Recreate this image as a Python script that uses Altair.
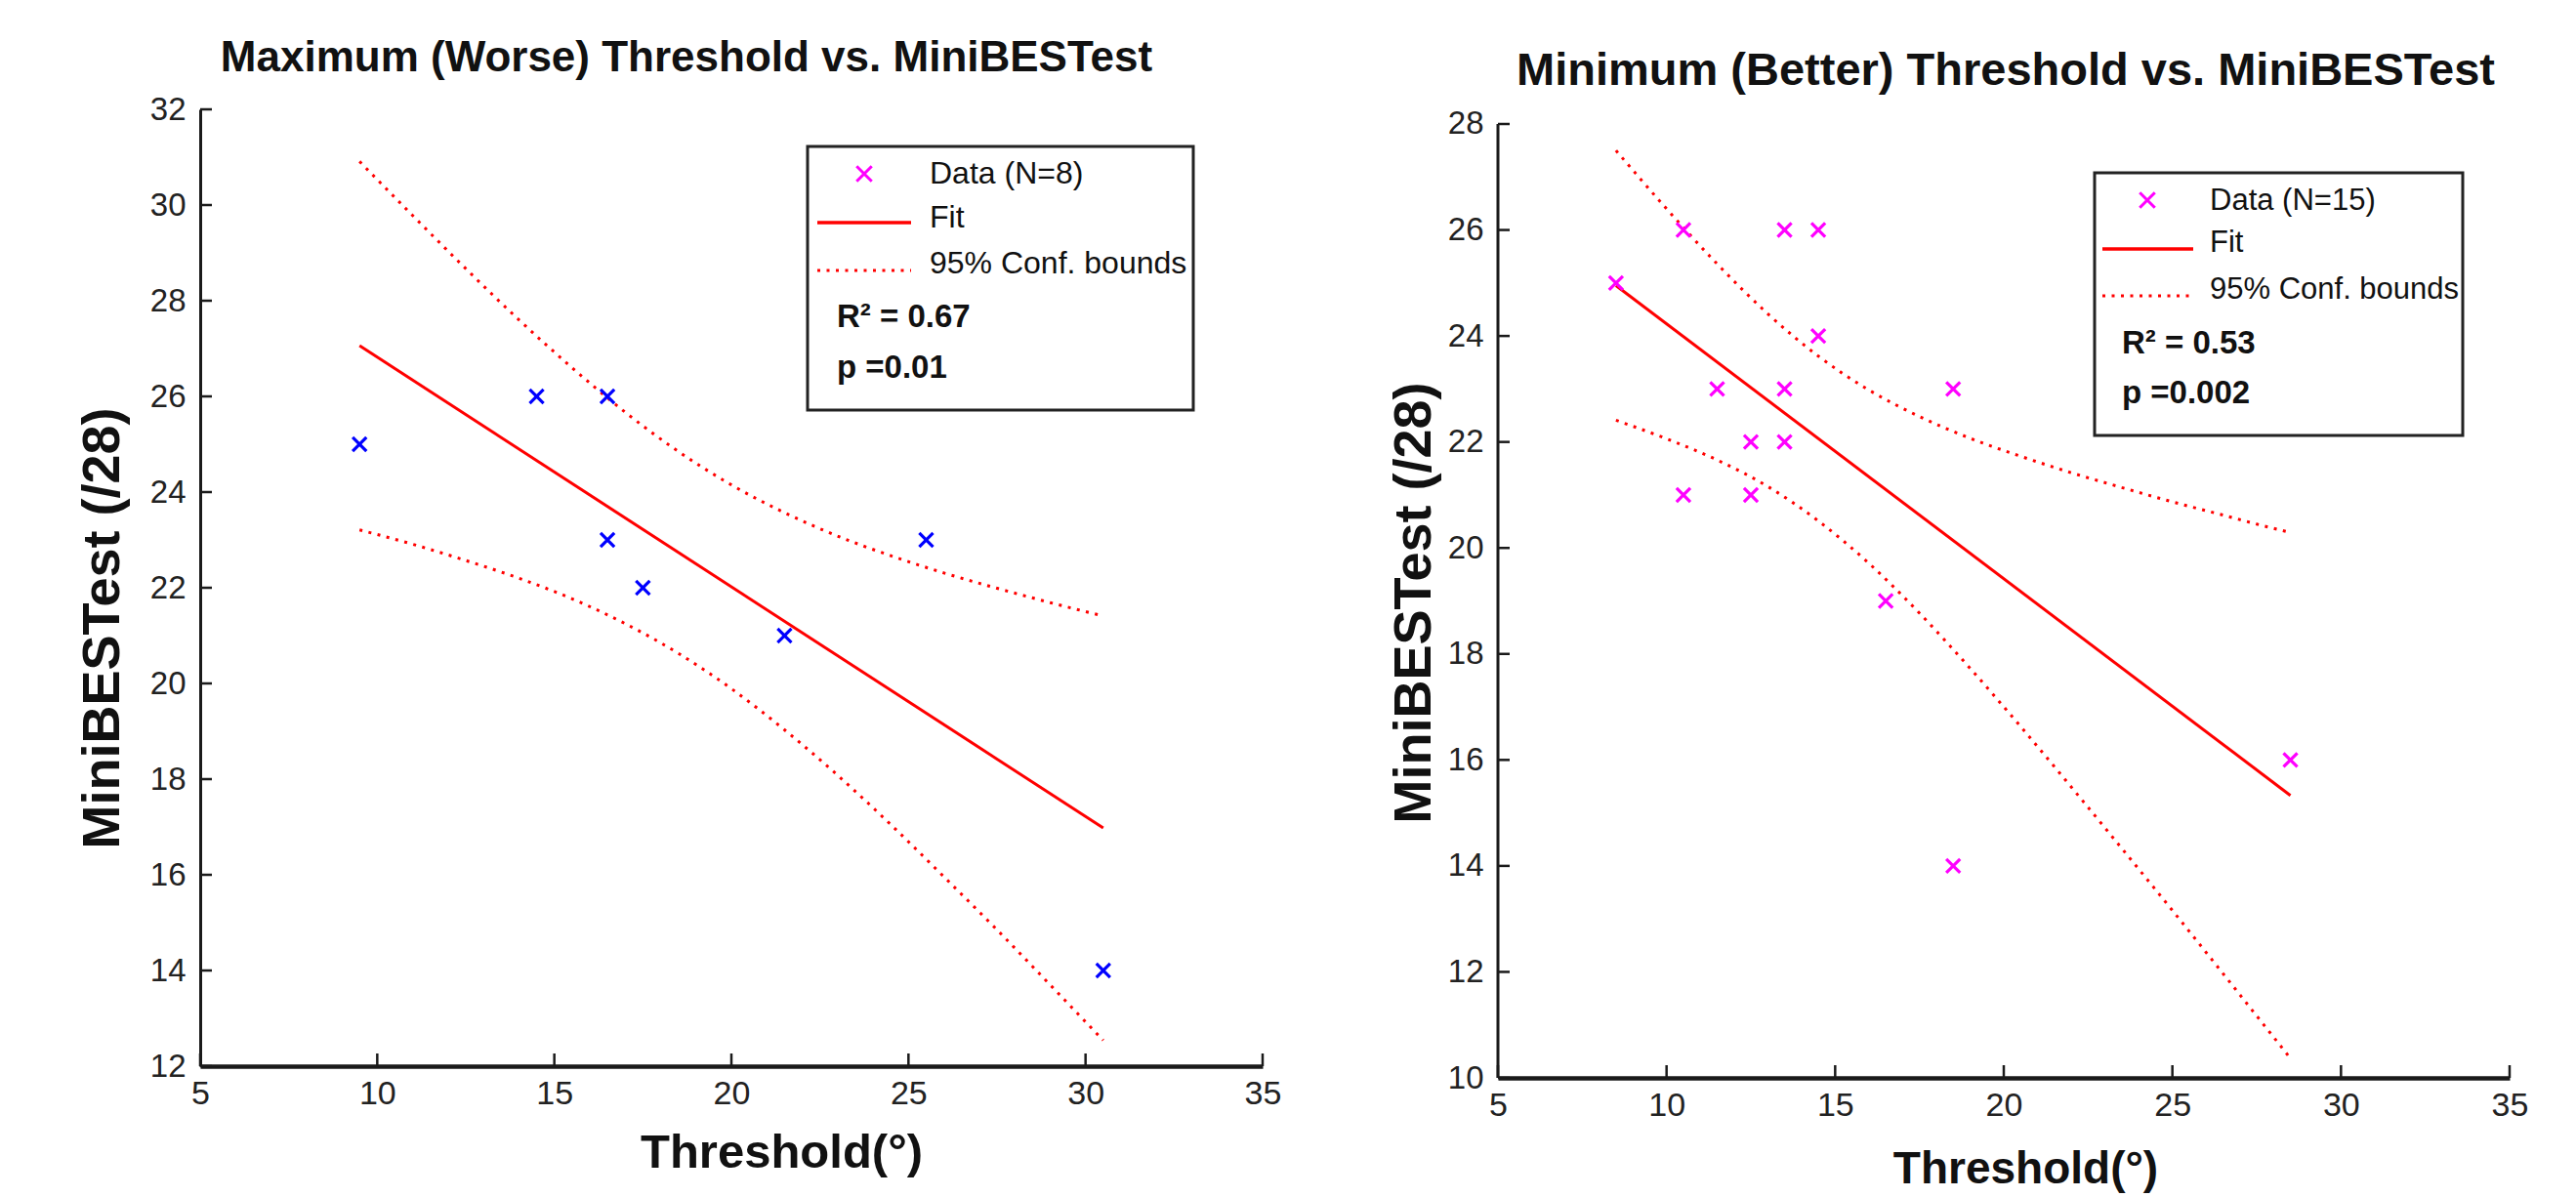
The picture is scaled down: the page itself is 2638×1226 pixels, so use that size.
import altair as alt
import pandas as pd

# ---------------- data ----------------
x_ticks = [5, 10, 15, 20, 25, 30, 35]

# Left panel: Maximum (Worse) Threshold
left_x = [9.5, 14.5, 16.5, 16.5, 17.5, 21.5, 25.5, 30.5]
left_y = [25, 26, 26, 23, 22, 21, 23, 14]
left_fit_x = [9.5, 30.5]
left_fit_y = [27.06, 16.98]
left_cb_x = [9.5, 11, 12.5, 14, 15.5, 17, 18.5, 20, 21.5, 23, 24.5, 26, 27.5, 29, 30.5]
left_cb_upper = [30.91, 29.78, 28.67, 27.60, 26.60, 25.67, 24.85, 24.15, 23.57, 23.08, 22.67, 22.31, 21.99, 21.69, 21.41]
left_cb_lower = [23.21, 22.91, 22.57, 22.20, 21.77, 21.25, 20.63, 19.89, 19.03, 18.08, 17.05, 15.96, 14.85, 13.70, 12.54]
left_y_ticks = [12, 14, 16, 18, 20, 22, 24, 26, 28, 30, 32]

# Right panel: Minimum (Better) Threshold
right_x = [10.5, 13.5, 14.5, 8.5, 14.5, 11.5, 13.5, 18.5, 12.5, 13.5, 10.5, 12.5, 16.5, 18.5, 28.5]
right_y = [26, 26, 26, 25, 24, 23, 23, 23, 22, 22, 21, 21, 19, 14, 16]
right_fit_x = [8.5, 28.5]
right_fit_y = [24.95, 15.33]
right_cb_x = [8.5, 10, 11.5, 13, 14.5, 16, 17.5, 19, 20.5, 22, 23.5, 25, 26.5, 27.5, 28.5]
right_cb_upper = [27.50, 26.40, 25.36, 24.42, 23.62, 22.98, 22.48, 22.07, 21.73, 21.42, 21.14, 20.87, 20.62, 20.45, 20.29]
right_cb_lower = [22.41, 22.06, 21.66, 21.16, 20.51, 19.71, 18.77, 17.73, 16.63, 15.49, 14.33, 13.16, 11.97, 11.17, 10.37]
right_y_ticks = [10, 12, 14, 16, 18, 20, 22, 24, 26, 28]

FONT = "Liberation Sans"
AX = "#1a1a1a"
RED = "#ff0000"
XSHAPE = "M-1,-1L1,1M-1,1L1,-1"


def panel(px, py, fx, fy, cbx, cbu, cbl, yticks, ydomain, W, H, title, title_fs,
          title_offset, title_dx, pcolor, ytitle_xy, xtitle_xy, ytitle_fs, xtitle_fs,
          manual_yline, leg):
    xscale = alt.Scale(domain=[5, 35], nice=False, zero=False)
    yscale = alt.Scale(domain=ydomain, nice=False, zero=False)
    xaxis = alt.Axis(values=x_ticks, ticks=False, tickSize=0, grid=False,
                     domainWidth=4.5, domainColor=AX, labelFontSize=34, labelFont=FONT,
                     labelColor="#222", labelPadding=11, labelFlush=False, labelOverlap=False,
                     title="Threshold(°)", titleFont=FONT, titleFontSize=xtitle_fs,
                     titleFontWeight="bold", titleColor="#111", titleX=xtitle_xy[0],
                     titleY=xtitle_xy[1], titleBaseline="middle", titleAlign="center")
    yaxis = alt.Axis(values=yticks, ticks=False, tickSize=0, grid=False,
                     domain=not manual_yline, domainWidth=3, domainColor=AX,
                     labelFontSize=33, labelFont=FONT, labelColor="#222", labelPadding=15,
                     labelOverlap=False, title="MiniBESTest (/28)", titleFont=FONT,
                     titleFontSize=ytitle_fs, titleFontWeight="bold", titleColor="#111",
                     titleX=ytitle_xy[0], titleY=ytitle_xy[1], titleBaseline="middle",
                     titleAlign="center", titleAngle=270)

    def X(f):
        return alt.X(f, type="quantitative", scale=xscale, axis=xaxis)

    def Y(f):
        return alt.Y(f, type="quantitative", scale=yscale, axis=yaxis)

    pts = pd.DataFrame({"x": px, "y": py})
    fit = pd.DataFrame({"x": fx, "y": fy})
    cb = pd.concat([
        pd.DataFrame({"x": cbx, "y": cbu, "b": "upper"}),
        pd.DataFrame({"x": cbx, "y": cbl, "b": "lower"}),
    ])
    xt = pd.DataFrame({"t": x_ticks})
    yt = pd.DataFrame({"t": yticks})

    layers = []
    layers.append(alt.Chart(cb).mark_line(color=RED, strokeWidth=3, strokeDash=[3, 6.5],
                                          interpolate="monotone")
                  .encode(x=X("x"), y=Y("y"), detail="b:N"))
    layers.append(alt.Chart(fit).mark_line(color=RED, strokeWidth=3)
                  .encode(x=X("x"), y=Y("y")))
    layers.append(alt.Chart(pts).mark_point(shape=XSHAPE, filled=False, size=200,
                                            strokeWidth=3.2, color=pcolor, opacity=1)
                  .encode(x=X("x"), y=Y("y")))
    # inward ticks (MATLAB style)
    layers.append(alt.Chart(xt).mark_rule(color=AX, strokeWidth=2.5)
                  .encode(x=X("t"), y=alt.value(H), y2=alt.value(H - 13)))
    layers.append(alt.Chart(yt).mark_rule(color=AX, strokeWidth=2.5)
                  .encode(y=Y("t"), x=alt.value(0), x2=alt.value(12)))
    if manual_yline:
        yl = pd.DataFrame({"lo": [min(yticks)], "hi": [max(yticks)]})
        layers.append(alt.Chart(yl).mark_rule(color=AX, strokeWidth=3)
                      .encode(x=alt.value(0), y=Y("lo"), y2=alt.Y2("hi")))

    # legend box
    one = pd.DataFrame({"k": [0]})
    bx0, bx1, by0, by1 = leg["box"]
    layers.append(alt.Chart(one).mark_rect(fill="white", stroke="#222", strokeWidth=3)
                  .encode(x=alt.value(bx0), x2=alt.value(bx1), y=alt.value(by0), y2=alt.value(by1)))
    mx, my = leg["marker"]
    layers.append(alt.Chart(one).mark_point(shape=XSHAPE, filled=False, size=240,
                                            strokeWidth=3, color="#ff00ff", opacity=1)
                  .encode(x=alt.value(mx), y=alt.value(my)))
    lx0, lx1 = leg["line_x"]
    layers.append(alt.Chart(one).mark_rule(color=RED, strokeWidth=3.5)
                  .encode(x=alt.value(lx0), x2=alt.value(lx1), y=alt.value(leg["fit_y"])))
    layers.append(alt.Chart(one).mark_rule(color=RED, strokeWidth=3, strokeDash=[3, 6.5])
                  .encode(x=alt.value(lx0), x2=alt.value(lx1), y=alt.value(leg["cb_y"])))
    for txt, tx, ty, bold in leg["texts"]:
        layers.append(alt.Chart(pd.DataFrame({"s": [txt]}))
                      .mark_text(align="left", baseline="middle", font=FONT,
                                 fontSize=leg["fs"] if not bold else leg["bfs"],
                                 fontWeight="bold" if bold else "normal", color="#111")
                      .encode(x=alt.value(tx), y=alt.value(ty), text="s:N"))

    return alt.layer(*layers).properties(
        width=W, height=H,
        title=alt.TitleParams(title, fontSize=title_fs, fontWeight="bold", font=FONT,
                              color="#111", anchor="middle", frame="group",
                              offset=title_offset, dx=title_dx),
    )


left_leg = {
    "box": (622, 1017, 38, 308), "marker": (680, 66), "line_x": (632, 728),
    "fit_y": 116, "cb_y": 165, "fs": 32, "bfs": 33,
    "texts": [("Data (N=8)", 747, 66, False), ("Fit", 747, 111, False),
              ("95% Conf. bounds", 747, 158, False), ("R² = 0.67", 652, 213, True),
              ("p =0.01", 652, 265, True)],
}
right_leg = {
    "box": (611, 988, 65, 334), "marker": (665, 93), "line_x": (619, 712),
    "fit_y": 143, "cb_y": 191, "fs": 31, "bfs": 33,
    "texts": [("Data (N=15)", 729, 94, False), ("Fit", 729, 137, False),
              ("95% Conf. bounds", 729, 185, False), ("R² = 0.53", 639, 240, True),
              ("p =0.002", 639, 291, True)],
}

left = panel(left_x, left_y, left_fit_x, left_fit_y, left_cb_x, left_cb_upper, left_cb_lower,
             left_y_ticks, [12, 32], 1088, 980,
             "Maximum (Worse) Threshold vs. MiniBESTest", 44, 14, -46, "#0000ff",
             (-100, 531), (595, 88), 54, 49, False, left_leg)

right = panel(right_x, right_y, right_fit_x, right_fit_y, right_cb_x, right_cb_upper, right_cb_lower,
              right_y_ticks, [10, 28.2763], 1036, 992,
              "Minimum (Better) Threshold vs. MiniBESTest", 47, 14, 2, "#ff00ff",
              (-86, 505), (540, 93), 54, 46, True, right_leg)

chart = (
    alt.hconcat(left, right, spacing=241, bounds="flush")
    .properties(padding={"left": 70, "top": 30, "right": 5, "bottom": 5})
    .configure(background="white")
    .configure_view(stroke="transparent", strokeWidth=0)
)

chart.save("out.html", embed_options={"renderer": "svg", "actions": False})
